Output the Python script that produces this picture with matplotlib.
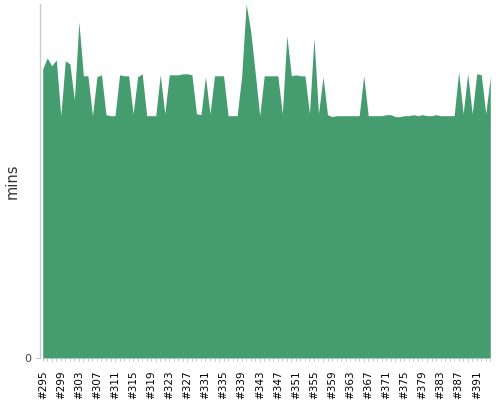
import numpy as np
import matplotlib
matplotlib.use("Agg")
import matplotlib.pyplot as plt
from matplotlib.ticker import MultipleLocator, FixedLocator

# build numbers and durations (minutes)
first_build = 295
durations = [
    14.5, 15.05, 14.65, 14.95, 12.15, 14.9, 14.75, 12.95, 16.85, 14.15,   # 295-304
    14.15, 12.15, 14.1, 14.2, 12.2, 12.15, 12.15, 14.2, 14.15, 14.15,    # 305-314
    12.25, 14.1, 14.25, 12.15, 12.15, 12.15, 14.2, 12.25, 14.2, 14.2,    # 315-324
    14.2, 14.25, 14.25, 14.2, 12.25, 12.2, 14.1, 12.25, 14.15, 14.15,    # 325-334
    14.15, 12.15, 12.15, 12.15, 14.1, 17.75, 16.4, 14.3, 12.15, 14.15,   # 335-344
    14.15, 14.15, 14.15, 12.25, 16.15, 14.15, 14.2, 14.15, 14.15, 12.25, # 345-354
    16.05, 12.25, 14.1, 12.2, 12.1, 12.15, 12.15, 12.15, 12.15, 12.15,   # 355-364
    12.15, 14.15, 12.15, 12.15, 12.15, 12.15, 12.2, 12.2, 12.1, 12.1,    # 365-374
    12.15, 12.15, 12.2, 12.15, 12.2, 12.15, 12.15, 12.2, 12.15, 12.15,   # 375-384
    12.15, 12.15, 14.35, 12.25, 14.25, 12.25, 14.25, 14.2, 12.25, 14.1,  # 385-394
]
builds = [f"#{first_build + i}" for i in range(len(durations))]

fill_color = "#459c6e"

fig = plt.figure(figsize=(5, 4), dpi=100)
ax = fig.add_axes([40 / 500, 42 / 400, 453 / 500, 354 / 400])

x = np.arange(len(durations))
ax.fill_between(x, 0, durations, color=fill_color, lw=0)

ax.set_xlim(-0.6, len(durations) - 0.4)
ax.set_ylim(0, max(durations))

# x axis: label every 4th build, small tick for each build
ax.xaxis.set_major_locator(FixedLocator(x[::4]))
ax.set_xticklabels(builds[::4], rotation=90, fontsize=7.5, color="#000000")
ax.xaxis.set_minor_locator(MultipleLocator(1))
ax.tick_params(axis="x", which="both", length=2, width=0.6, color="#bbbbbb", pad=7)

ax.set_yticks([0])
ax.set_yticklabels(["0"], fontsize=8, color="#444444")
ax.tick_params(axis="y", length=3, width=0.6, color="#bbbbbb")
ax.set_ylabel("mins", fontsize=10.5, color="#333333")
ax.yaxis.set_label_coords(-20 / 453, 0.5)

for side in ["top", "right"]:
    ax.spines[side].set_visible(False)
ax.spines["bottom"].set_visible(False)
ax.spines["left"].set_color("#cccccc")
ax.spines["left"].set_linewidth(1)

fig.savefig("out.png", dpi=100)
